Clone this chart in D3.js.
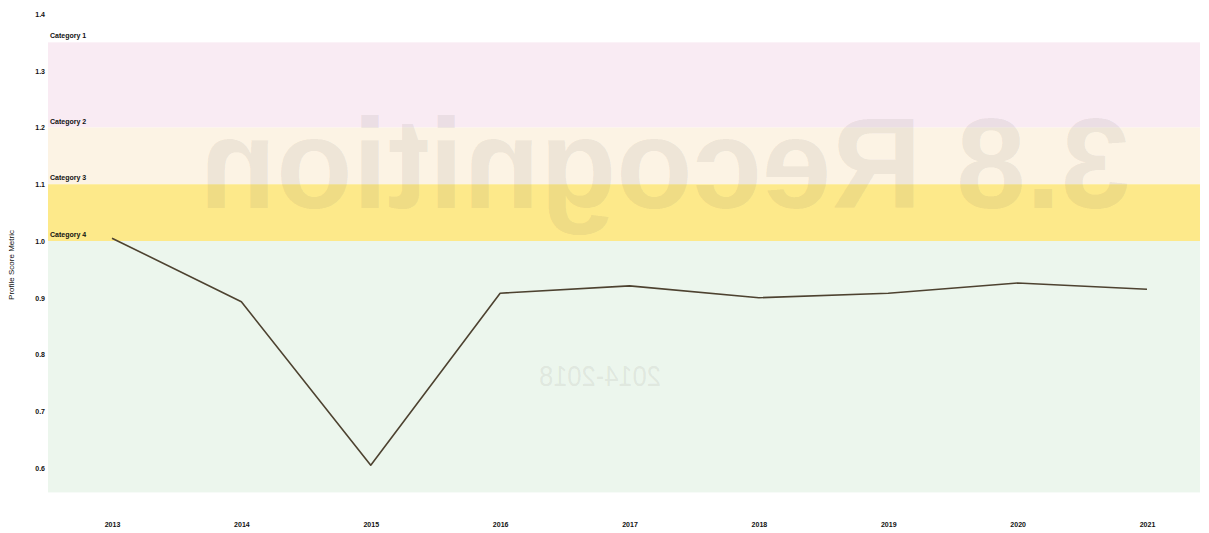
<!DOCTYPE html>
<html>
<head>
<meta charset="utf-8">
<script src="https://cdn.jsdelivr.net/npm/d3@7"></script>
<style>
  body { margin: 0; background: #fff; }
  text { font-family: "Liberation Sans", Arial, sans-serif; }
</style>
</head>
<body>
<svg id="chart"></svg>
<script>
// values
var years = ["2013", "2014", "2015", "2016", "2017", "2018", "2019", "2020", "2021"];
var scores = [1.005, 0.893, 0.605, 0.908, 0.921, 0.900, 0.908, 0.926, 0.915];
var yTicks = [1.4, 1.3, 1.2, 1.1, 1.0, 0.9, 0.8, 0.7, 0.6];
var bandNames = ["Category 1", "Category 2", "Category 3", "Category 4"];
var bandTop = [1.35, 1.2, 1.1, 1.0];
var bandBottom = [1.2, 1.1, 1.0, 0.557];
var bandColors = ["#f9ebf3", "#fcf3e4", "#fde98a", "#ecf6ed"];

var width = 1209, height = 533;

var svg = d3.select("#chart")
    .attr("width", width)
    .attr("height", height);

var x = d3.scalePoint()
    .domain(years)
    .range([112, 1147]);

var y = d3.scaleLinear()
    .domain([0.6, 1.4])
    .range([468, 14]);

// coloured category bands
var bands = svg.append("g").attr("class", "bands");
bands.selectAll("rect")
    .data(bandNames)
    .enter().append("rect")
    .attr("x", 48)
    .attr("width", 1200 - 48)
    .attr("y", function(d, i) { return y(bandTop[i]); })
    .attr("height", function(d, i) { return y(bandBottom[i]) - y(bandTop[i]); })
    .style("fill", function(d, i) { return bandColors[i]; });

// show-through text from the back of the scanned page (mirrored)
var ghost = svg.append("g").attr("class", "ghost")
    .style("fill", "rgba(110,100,90,0.11)");
ghost.append("text")
    .attr("transform", "translate(665,208) scale(-1,1)")
    .attr("text-anchor", "middle")
    .attr("textLength", 930)
    .attr("lengthAdjust", "spacingAndGlyphs")
    .style("font-size", "128px")
    .style("font-weight", "bold")
    .text("3.8 Recognition");
ghost.append("text")
    .attr("transform", "translate(600,386) scale(-1,1)")
    .attr("text-anchor", "middle")
    .attr("textLength", 122)
    .attr("lengthAdjust", "spacingAndGlyphs")
    .style("font-size", "30px")
    .text("2014-2018");

// category labels
bands.selectAll("text")
    .data(bandNames)
    .enter().append("text")
    .attr("x", 50)
    .attr("y", function(d, i) { return y(bandTop[i]) - 4; })
    .style("font-size", "7px")
    .style("font-weight", "bold")
    .style("fill", "#111")
    .text(function(d) { return d; });

// y axis (labels only)
var yAxis = svg.append("g")
    .attr("transform", "translate(45,0)")
    .call(d3.axisLeft(y).tickValues(yTicks).tickSize(0).tickPadding(0).tickFormat(d3.format(".1f")));
yAxis.select(".domain").remove();
yAxis.selectAll("text")
    .style("font-size", "7px")
    .style("font-weight", "bold")
    .style("font-family", "'Liberation Sans', Arial, sans-serif")
    .style("fill", "#111");

// x axis (labels only)
var xAxis = svg.append("g")
    .attr("transform", "translate(0,519)")
    .call(d3.axisBottom(x).tickSize(0).tickPadding(3));
xAxis.select(".domain").remove();
xAxis.selectAll("text")
    .style("font-size", "7px")
    .style("font-weight", "bold")
    .style("font-family", "'Liberation Sans', Arial, sans-serif")
    .style("fill", "#111");

svg.append("text")
    .attr("transform", "translate(14,265) rotate(-90)")
    .attr("text-anchor", "middle")
    .style("font-size", "8px")
    .style("fill", "#111")
    .text("Profile Score Metric");

// the score line
var line = d3.line()
    .x(function(d, i) { return x(years[i]); })
    .y(function(d) { return y(d); });

svg.append("path")
    .datum(scores)
    .attr("d", line)
    .style("fill", "none")
    .style("stroke", "#4d4230")
    .style("stroke-width", 1.6)
    .style("stroke-linejoin", "round");
</script>
</body>
</html>
